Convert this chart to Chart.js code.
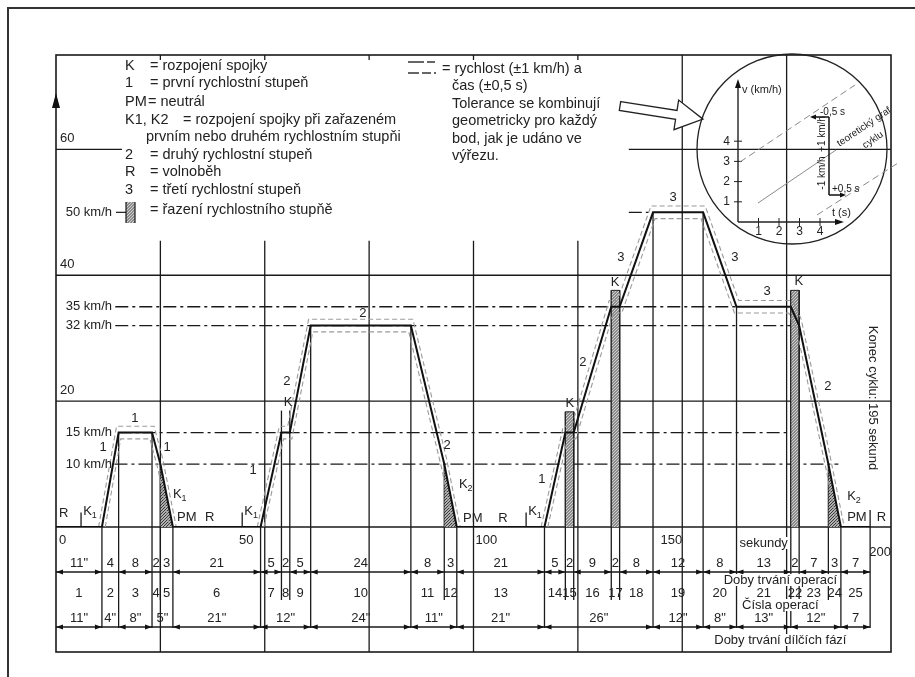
<!DOCTYPE html>
<html>
<head>
<meta charset="utf-8">
<script src="https://cdn.jsdelivr.net/npm/chart.js@4.4.1/dist/chart.umd.min.js"></script>
<style>
  html, body { margin: 0; padding: 0; background: #fff; }
  canvas { display: block; }
</style>
</head>
<body>
<canvas id="cyklus" width="915" height="677"></canvas>
<script>
// jízdní cyklus - časy (s) a rychlosti (km/h) v bodech zlomu
const cycleTime  = [0, 11, 15, 23, 25, 28, 49, 54, 56, 61, 85, 93, 96, 117, 122, 124, 133, 135, 143, 155, 163, 176, 178, 185, 188, 195];
const cycleSpeed = [0, 0, 15, 15, 10, 0, 0, 15, 15, 32, 32, 10, 0, 0, 15, 15, 35, 35, 50, 50, 35, 35, 32, 10, 0, 0];

// tolerance (±1 km/h, ±0,5 s) - horní a dolní mez, po jednotlivých úsecích
const upperTol = [
  [[10.2, 0], [14.5, 16], [23.5, 16], [25.5, 11], [28.8, 0]],
  [[48.2, 0], [53.5, 16], [55.5, 16], [60.5, 33], [85.5, 33], [93.5, 11], [96.8, 0]],
  [[116.2, 0], [121.5, 16], [123.5, 16], [132.5, 36], [134.5, 36], [142.5, 51], [155.5, 51], [163.5, 36], [176.5, 36], [178.5, 33], [185.5, 11], [188.8, 0]]
];
const lowerTol = [
  [[11.8, 0], [15.5, 14], [22.5, 14], [24.5, 9], [27.2, 0]],
  [[49.8, 0], [54.5, 14], [56.5, 14], [61.5, 31], [84.5, 31], [92.5, 9], [95.2, 0]],
  [[117.8, 0], [122.5, 14], [124.5, 14], [133.5, 34], [135.5, 34], [143.5, 49], [154.5, 49], [162.5, 34], [175.5, 34], [177.5, 31], [184.5, 9], [187.2, 0]]
];

// řazení rychlostního stupně [od, do, výška]
const shiftBars = [[122, 124, 18.3], [133, 135, 37.6], [176, 178, 37.6]];
const openShift = [54, 56, 18.5];
// rozpojení spojky při zpomalování [od, rychlost, do]
const clutchDecel = [[25, 10, 28], [93, 10, 96], [185, 10, 188]];

// referenční rychlosti
const refSpeeds = [10, 15, 32, 35, 50];
const refLabels = ['10 km/h', '15 km/h', '32 km/h', '35 km/h', '50 km/h'];
const refFrom   = [14.0, 15, 14.2, 14.2, 137.2];
const refTo     = [187.4, 176.4, 176.3, 163, 143];

// tabulka operací
const opDurations = ['11"', '4', '8', '2', '3', '21', '5', '2', '5', '24', '8', '3', '21', '5', '2', '9', '2', '8', '12', '8', '13', '2', '7', '3', '7'];
const opNumbers = ['1', '2', '3', '4', '5', '6', '7', '8', '9', '10', '11', '12', '13', '14', '15', '16', '17', '18', '19', '20', '21', '22', '23', '24', '25'];
const phaseBounds = [0, 11, 15, 23, 28, 49, 61, 85, 96, 117, 143, 155, 163, 176, 188, 195];
const phaseDurations = ['11"', '4"', '8"', '5"', '21"', '12"', '24"', '11"', '21"', '26"', '12"', '8"', '13"', '12"', '7'];

const speedTicks = [20, 40, 60];
const timeTicks = [0, 50, 100, 150, 200];

// popisky převodových stupňů [text, t, v, zarovnání]
const gearMarks = [
  ['R', 0.7, 2.2, 'left'], ['K_1', 6.5, 2.4, 'left'],
  ['1', 11.3, 12.6], ['1', 18.9, 17.3], ['1', 26.6, 12.6],
  ['K_1', 28.0, 5.1, 'left'], ['PM', 29.0, 1.6, 'left'], ['R', 35.7, 1.6, 'left'],
  ['K_1', 45.1, 2.4, 'left'], ['1', 47.2, 9],
  ['K', 55.6, 19.8], ['2', 55.3, 23.2], ['2', 73.5, 34], ['2', 93.7, 13],
  ['K_2', 96.5, 6.7, 'left'], ['PM', 97.5, 1.4, 'left'], ['R', 105.9, 1.4, 'left'],
  ['K_1', 113.1, 2.4, 'left'], ['1', 116.4, 7.5],
  ['K', 123.1, 19.7], ['2', 126.2, 26.2], ['K', 133.9, 38.9], ['3', 135.3, 42.9],
  ['3', 147.8, 52.3], ['3', 162.6, 42.8], ['3', 170.3, 37.4], ['K', 177.9, 39],
  ['2', 184.9, 22.3], ['K_2', 189.5, 4.8, 'left'], ['PM', 189.5, 1.6, 'left'], ['R', 196.6, 1.6, 'left']
];
const kTicks = [6.0, 44.6, 112.6];

const FONT = '"Liberation Sans", Arial, sans-serif';
const INK = '#222';
const LEG = 14.5; // velikost písma legendy

const canvas = document.getElementById('cyklus');
const mainCtx = canvas.getContext('2d');

function makePattern(bg, fg, size, cells) {
  const c = document.createElement('canvas');
  c.width = size; c.height = size;
  const g = c.getContext('2d');
  g.fillStyle = bg; g.fillRect(0, 0, size, size);
  g.fillStyle = fg;
  cells.forEach(p => g.fillRect(p[0], p[1], 1, 1));
  return mainCtx.createPattern(c, 'repeat');
}
const stipple = makePattern('#8c8c8c', '#d0d0d0', 3, [[0, 0], [2, 1], [1, 2]]);
const hatch = makePattern('#b0b0b0', '#3a3a3a', 3, [[0, 2], [1, 1], [2, 0]]);

function txt(ctx, s, x, y, align, size) {
  ctx.font = (size || 13) + 'px ' + FONT;
  ctx.textAlign = align || 'center';
  ctx.textBaseline = 'middle';
  ctx.fillText(s, x, y);
}
function txtSub(ctx, s, sub, x, y, size) {
  size = size || 13;
  ctx.font = size + 'px ' + FONT;
  ctx.textAlign = 'left';
  ctx.textBaseline = 'middle';
  ctx.fillText(s, x, y);
  const w = ctx.measureText(s).width;
  ctx.font = Math.round(size * 0.7) + 'px ' + FONT;
  ctx.fillText(sub, x + w, y + 4);
}
function line(ctx, x1, y1, x2, y2) {
  ctx.beginPath(); ctx.moveTo(x1, y1); ctx.lineTo(x2, y2); ctx.stroke();
}
function head(ctx, x, y, dir, len, hw) {
  len = len || 7; hw = hw || 2.6;
  ctx.beginPath();
  ctx.moveTo(x, y);
  ctx.lineTo(x - dir * len, y - hw);
  ctx.lineTo(x - dir * len, y + hw);
  ctx.closePath();
  ctx.fill();
}

const drawing = {
  id: 'cyklusKresba',
  beforeDraw(chart) {
    const ctx = chart.ctx;
    ctx.save();
    ctx.fillStyle = '#fff';
    ctx.fillRect(0, 0, chart.width, chart.height);
    ctx.restore();
  },
  beforeDatasetsDraw(chart) {
    const { ctx, chartArea: a } = chart;
    const px = t => chart.scales.x.getPixelForValue(t);
    const py = v => chart.scales.y.getPixelForValue(v);
    const B = a.bottom, TB = B + 125;
    ctx.save();

    // vnější rámeček
    ctx.strokeStyle = '#333'; ctx.lineWidth = 2;
    ctx.beginPath(); ctx.moveTo(8, chart.height); ctx.lineTo(8, 8); ctx.lineTo(chart.width, 8); ctx.stroke();

    ctx.strokeStyle = '#1a1a1a'; ctx.lineWidth = 1.3;
    // vodorovná mřížka
    line(ctx, px(0), py(20), px(200), py(20));
    line(ctx, px(0), py(40), px(200), py(40));
    line(ctx, px(0), py(60), px(15.8), py(60));
    line(ctx, px(137.2), py(60), px(200), py(60));
    // svislá mřížka
    [25, 50, 75, 100, 125].forEach(t => {
      line(ctx, px(t), py(45.5), px(t), TB);
      line(ctx, px(t), a.top, px(t), a.top + 5);
    });
    [150, 175].forEach(t => line(ctx, px(t), a.top, px(t), TB));
    // rám grafu a tabulky
    ctx.lineWidth = 1.6;
    ctx.strokeRect(px(0), a.top, px(200) - px(0), TB - a.top);
    line(ctx, px(0), B, px(200), B);

    // referenční rychlosti (čerchovaně)
    ctx.lineWidth = 1.3;
    ctx.setLineDash([13, 4, 3, 4]);
    refSpeeds.forEach((v, i) => line(ctx, px(refFrom[i]), py(v), px(refTo[i]), py(v)));
    ctx.setLineDash([]);

    // svislice operací do tabulky
    const barTop = t => {
      let top = null;
      shiftBars.concat([openShift]).forEach(b => {
        if (t === b[0] || t === b[1]) top = b[2];
      });
      return top;
    };
    cycleTime.forEach((t, i) => {
      if (t === 0) return;
      let v = cycleSpeed[i];
      const bt = barTop(t);
      if (bt !== null) v = Math.max(v, bt);
      if (t === 195) v = 2.7;
      const depth = phaseBounds.includes(t) ? B + 101 : B + 73;
      line(ctx, px(t), py(v), px(t), depth);
    });
    // značky K1
    kTicks.forEach(t => line(ctx, px(t), py(0), px(t), py(2.3)));

    // kótovací čáry tabulky
    ctx.fillStyle = '#111';
    line(ctx, px(0), B + 45, px(195), B + 45);
    line(ctx, px(0), B + 100, px(195), B + 100);
    for (let i = 0; i < cycleTime.length - 1; i++) {
      if (cycleTime[i + 1] - cycleTime[i] >= 5) {
        head(ctx, px(cycleTime[i]), B + 45, -1);
        head(ctx, px(cycleTime[i + 1]), B + 45, 1);
      }
    }
    for (let i = 0; i < phaseBounds.length - 1; i++) {
      if (phaseBounds[i + 1] - phaseBounds[i] >= 6) {
        head(ctx, px(phaseBounds[i]), B + 100, -1);
        head(ctx, px(phaseBounds[i + 1]), B + 100, 1);
      }
    }
    ctx.restore();
  },
  afterDatasetsDraw(chart) {
    const { ctx, chartArea: a } = chart;
    const px = t => chart.scales.x.getPixelForValue(t);
    const py = v => chart.scales.y.getPixelForValue(v);
    const B = a.bottom;
    ctx.save();
    ctx.fillStyle = INK;
    ctx.strokeStyle = '#1a1a1a';

    // šipka osy rychlosti
    ctx.fillStyle = '#111';
    ctx.beginPath();
    ctx.moveTo(px(0), 93); ctx.lineTo(px(0) - 4, 108); ctx.lineTo(px(0) + 4, 108); ctx.closePath(); ctx.fill();
    ctx.fillStyle = INK;

    // popisky os
    speedTicks.forEach(v => txt(ctx, String(v), px(0) + 4, py(v) - 11, 'left'));
    txt(ctx, String(timeTicks[0]), px(0) + 3, B + 13, 'left');
    txt(ctx, String(timeTicks[1]), px(47.3), B + 13, 'right');
    txt(ctx, String(timeTicks[2]), px(100) + 2, B + 13, 'left');
    txt(ctx, String(timeTicks[3]), px(150), B + 13, 'right');
    txt(ctx, String(timeTicks[4]), px(200), B + 25, 'right');

    // popisky referenčních rychlostí
    refLabels.forEach((s, i) => txt(ctx, s, 112, py(refSpeeds[i]), 'right'));

    // převodové stupně
    gearMarks.forEach(m => {
      const x = px(m[1]), y = py(m[2]);
      if (m[0].includes('_')) {
        const p = m[0].split('_');
        txtSub(ctx, p[0], p[1], x, y);
      } else {
        txt(ctx, m[0], x, y, m[3] || 'center');
      }
    });

    // konec cyklu
    ctx.save();
    ctx.translate(px(195.7), py(20.5));
    ctx.rotate(Math.PI / 2);
    txt(ctx, 'Konec cyklu: 195 sekund', 0, 0, 'center');
    ctx.restore();

    // tabulka - čísla
    for (let i = 0; i < opNumbers.length; i++) {
      const mid = px((cycleTime[i] + cycleTime[i + 1]) / 2);
      txt(ctx, opDurations[i], mid, B + 36);
      txt(ctx, opNumbers[i], mid, B + 66);
    }
    for (let i = 0; i < phaseDurations.length; i++) {
      txt(ctx, phaseDurations[i], px((phaseBounds[i] + phaseBounds[i + 1]) / 2), B + 91);
    }
    const boxed = (s, x, y) => {
      ctx.font = '13px ' + FONT;
      const w = ctx.measureText(s).width;
      ctx.fillStyle = '#fff';
      ctx.fillRect(x - w / 2 - 1, y - 6, w + 2, 12);
      ctx.fillStyle = INK;
      txt(ctx, s, x, y);
    };
    boxed('sekundy', px(169.5), B + 16);
    boxed('Doby trvání operací', px(173.5), B + 53);
    boxed('Čísla operací', px(173.5), B + 78);
    boxed('Doby trvání dílčích fází', px(173.5), B + 113);

    // legenda vlevo
    [['K', '= rozpojení spojky', 66], ['1', '= první rychlostní stupeň', 83]]
      .forEach(r => { txt(ctx, r[0], 125, r[2], 'left', LEG); txt(ctx, r[1], 150, r[2], 'left', LEG); });
    txt(ctx, 'PM', 125, 102, 'left', LEG); txt(ctx, '= neutrál', 148, 102, 'left', LEG);
    txt(ctx, 'K1, K2', 125, 120, 'left', LEG); txt(ctx, '= rozpojení spojky při zařazeném', 183, 120, 'left', LEG);
    txt(ctx, 'prvním nebo druhém rychlostním stupňi', 146, 137, 'left', LEG);
    [['2', '= druhý rychlostní stupeň', 155], ['R', '= volnoběh', 172], ['3', '= třetí rychlostní stupeň', 190]]
      .forEach(r => { txt(ctx, r[0], 125, r[2], 'left', LEG); txt(ctx, r[1], 150, r[2], 'left', LEG); });
    txt(ctx, '= řazení rychlostního stupňě', 150, 210, 'left', LEG);
    ctx.lineWidth = 1.2;
    line(ctx, 116, py(50), 126, py(50));
    ctx.fillStyle = stipple;
    ctx.fillRect(126, 202, 9, 21);
    line(ctx, 126, 202, 126, 223);
    line(ctx, 135, 202, 135, 223);
    ctx.fillStyle = INK;

    // legenda vpravo
    ctx.strokeStyle = '#333'; ctx.lineWidth = 1.5;
    line(ctx, 408, 62, 424, 62); line(ctx, 427, 62, 435, 62);
    line(ctx, 408, 73, 419, 73); line(ctx, 422, 73, 431, 73); line(ctx, 434, 73, 436, 73);
    txt(ctx, '= rychlost (±1 km/h) a', 442, 69, 'left', LEG);
    ['čas (±0,5 s)', 'Tolerance se kombinují', 'geometricky pro každý', 'bod, jak je udáno ve', 'výřezu.']
      .forEach((s, i) => txt(ctx, s, 452, 86 + i * 17.5, 'left', LEG));

    // dutá šipka
    ctx.save();
    ctx.translate(620, 106);
    ctx.rotate(9 * Math.PI / 180);
    ctx.beginPath();
    ctx.moveTo(0, -4.5); ctx.lineTo(57, -4.5); ctx.lineTo(57, -15); ctx.lineTo(84, 0);
    ctx.lineTo(57, 15); ctx.lineTo(57, 4.5); ctx.lineTo(0, 4.5); ctx.closePath();
    ctx.fillStyle = '#fff'; ctx.fill();
    ctx.strokeStyle = '#222'; ctx.lineWidth = 1.3; ctx.stroke();
    ctx.restore();

    // výřez
    ctx.strokeStyle = '#222'; ctx.lineWidth = 1.3;
    ctx.beginPath(); ctx.arc(792, 149, 95, 0, Math.PI * 2); ctx.stroke();
    const O = { x: 738, y: 222 };
    ctx.lineWidth = 1.4;
    line(ctx, O.x, O.y, O.x, 84);
    line(ctx, O.x, O.y, 838, O.y);
    ctx.fillStyle = '#111';
    ctx.beginPath(); ctx.moveTo(O.x, 79); ctx.lineTo(O.x - 3, 88); ctx.lineTo(O.x + 3, 88); ctx.closePath(); ctx.fill();
    ctx.beginPath(); ctx.moveTo(844, O.y); ctx.lineTo(835, O.y - 3); ctx.lineTo(835, O.y + 3); ctx.closePath(); ctx.fill();
    ctx.fillStyle = INK;
    ctx.lineWidth = 1;
    ['1', '2', '3', '4'].forEach((s, i) => {
      const x = O.x + 20.5 * (i + 1);
      line(ctx, x, O.y - 4, x, O.y + 4);
      txt(ctx, s, x, O.y + 10, 'center', 12);
      const y = O.y - 20.2 * (i + 1);
      line(ctx, O.x - 4, y, O.x + 4, y);
      txt(ctx, s, O.x - 8, y, 'right', 12);
    });
    txt(ctx, 'v (km/h)', O.x + 4, 90, 'left', 11);
    txt(ctx, 't (s)', 832, 213, 'left', 11);

    ctx.strokeStyle = '#8a8a8a'; ctx.lineWidth = 1;
    ctx.setLineDash([7, 4]);
    line(ctx, 740, 162, 855, 85);
    line(ctx, 817, 215, 898, 163);
    ctx.setLineDash([]);
    line(ctx, 758, 203, 836, 150);

    ctx.strokeStyle = '#111'; ctx.lineWidth = 1.5; ctx.fillStyle = '#111';
    line(ctx, 829, 117, 829, 195);
    line(ctx, 829, 117, 812, 117); head(ctx, 810, 117, -1, 6, 2.5);
    line(ctx, 829, 195, 843, 195); head(ctx, 846, 195, 1, 6, 2.5);
    ctx.fillStyle = INK;
    txt(ctx, '-0,5 s', 820, 112, 'left', 10);
    txt(ctx, '+0,5 s', 832, 189, 'left', 10);
    ctx.save(); ctx.translate(822, 134); ctx.rotate(-Math.PI / 2); txt(ctx, '+1 km/h', 0, 0, 'center', 10); ctx.restore();
    ctx.save(); ctx.translate(822, 173); ctx.rotate(-Math.PI / 2); txt(ctx, '-1 km/h', 0, 0, 'center', 10); ctx.restore();
    ctx.save(); ctx.translate(864, 127); ctx.rotate(-Math.atan(0.676)); txt(ctx, 'teoretický graf', 0, 0, 'center', 10); ctx.restore();
    ctx.save(); ctx.translate(873, 140); ctx.rotate(-Math.atan(0.676)); txt(ctx, 'cyklu', 0, 0, 'center', 10); ctx.restore();

    ctx.restore();
  }
};

const pts = arr => arr.map(p => ({ x: p[0], y: p[1] }));
const datasets = [
  {
    label: 'rychlost',
    data: cycleTime.map((t, i) => ({ x: t, y: cycleSpeed[i] })),
    borderColor: '#111', borderWidth: 2, pointRadius: 0, fill: false, order: 0
  }
];
upperTol.concat(lowerTol).forEach(seg => datasets.push({
  label: 'tolerance',
  data: pts(seg),
  borderColor: '#9a9a9a', borderWidth: 1.1, borderDash: [5, 3], pointRadius: 0, fill: false, order: 1
}));
shiftBars.forEach(b => datasets.push({
  label: 'řazení',
  data: pts([[b[0], 0], [b[0], b[2]], [b[1], b[2]], [b[1], 0]]),
  borderColor: '#222', borderWidth: 1, backgroundColor: stipple, pointRadius: 0, fill: 'origin', order: 2
}));
clutchDecel.forEach(c => datasets.push({
  label: 'spojka',
  data: pts([[c[0], c[1]], [c[2], 0]]),
  borderColor: 'rgba(0,0,0,0)', borderWidth: 0, backgroundColor: hatch, pointRadius: 0, fill: 'origin', order: 3
}));

new Chart(mainCtx, {
  type: 'line',
  data: { datasets: datasets },
  options: {
    responsive: false,
    animation: false,
    events: [],
    layout: { padding: { left: 56, top: 55, right: 24, bottom: 150 } },
    elements: { line: { tension: 0 } },
    scales: {
      x: { type: 'linear', min: 0, max: 200, display: false },
      y: { type: 'linear', min: 0, max: 75, display: false }
    },
    plugins: { legend: { display: false }, tooltip: { enabled: false } }
  },
  plugins: [drawing]
});
</script>
</body>
</html>
